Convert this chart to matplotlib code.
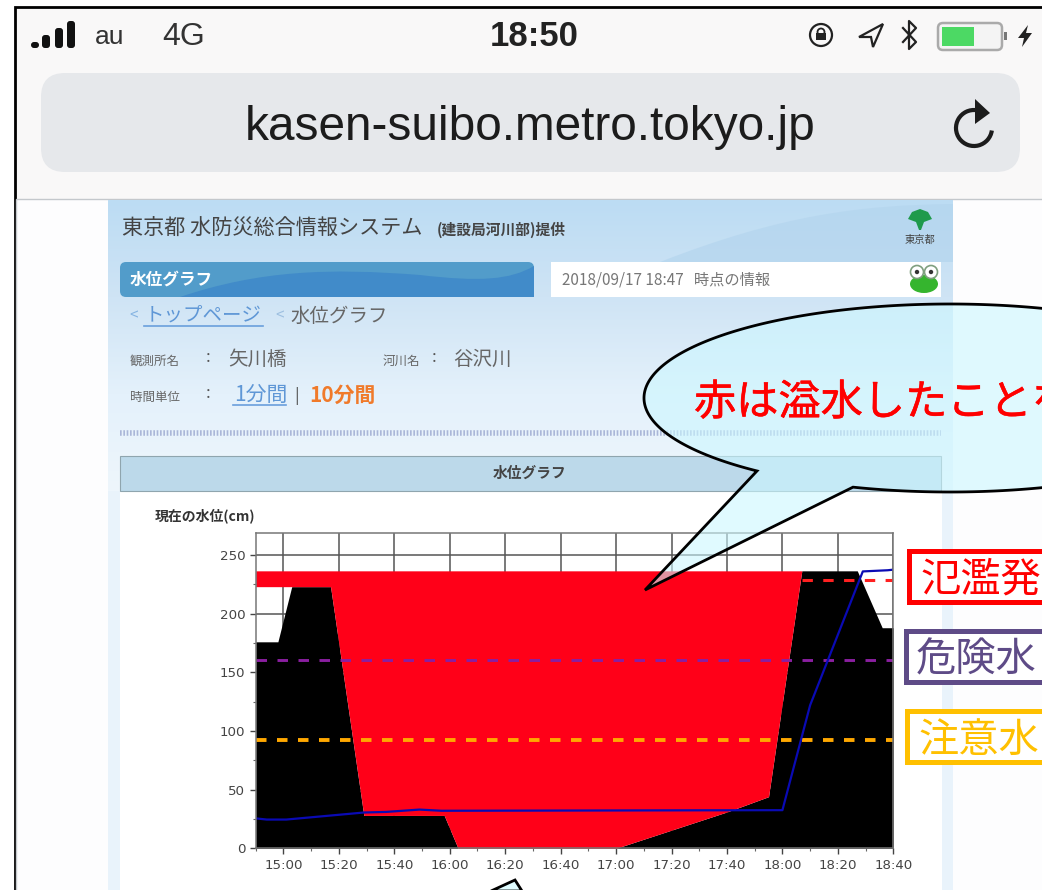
import numpy as np
import pandas as pd
import matplotlib
matplotlib.use("Agg")
import matplotlib.pyplot as plt
import matplotlib.dates as mdates
import matplotlib.patheffects as pe
from matplotlib.patches import Rectangle, FancyBboxPatch, Polygon, Circle, Arc, Ellipse, PathPatch
from matplotlib.path import Path
from matplotlib.colors import LinearSegmentedColormap

plt.rcParams['font.family'] = ['Noto Sans CJK JP', 'DejaVu Sans']

# water level chart data
ground_times = ["14:50", "14:58", "15:03", "15:17", "15:29", "15:58", "16:03", "17:00", "17:40", "17:55", "18:07", "18:27", "18:36", "18:40"]
ground_level = [176, 176, 223, 223, 28, 28, 0, 0, 31, 44, 236.5, 236.5, 188, 188]

flood_times = ["14:50", "15:03", "15:17", "15:29", "15:58", "16:03", "17:00", "17:40", "17:55", "18:07"]
flood_low = [223, 223, 223, 28, 28, 0, 0, 31, 44, 236.5]
flood_top = 236.5

level_times = ["14:50", "14:54", "15:01", "15:29", "15:37", "15:49", "15:57", "18:00", "18:10", "18:29", "18:38", "18:40"]
level_cm = [25.5, 24.5, 24.5, 30.5, 31, 33, 32, 32.5, 122, 236, 237, 237.5]

warn_level = 92
danger_level = 160.5
flood_level = 229
flood_line_start = "18:07"

yticks = [0, 50, 100, 150, 200, 250]
xtick_times = ["15:00", "15:20", "15:40", "16:00", "16:20", "16:40", "17:00", "17:20", "17:40", "18:00", "18:20", "18:40"]

def to_time(times):
    return pd.to_datetime(["2018-09-17 " + t for t in times])

W, H = 1042, 890
fig = plt.figure(figsize=(W / 100, H / 100), dpi=100, facecolor="white")

def pixel_axes(z):
    a = fig.add_axes([0, 0, 1, 1], zorder=z)
    a.set_xlim(0, W)
    a.set_ylim(H, 0)
    a.axis("off")
    a.patch.set_alpha(0)
    return a

# ---- screenshot background ----
bg = pixel_axes(0)
bg.add_patch(Rectangle((15, 7), W, H, fc="#f9f8f8", ec="black", lw=2))
bg.add_patch(Rectangle((16, 199), W, H, fc="#fdfdfe", ec="#c4c8cc", lw=1))
bg.add_patch(FancyBboxPatch((41, 73), 979, 99, boxstyle="round,pad=0,rounding_size=24", fc="#e6e8eb", ec="none"))

# status bar
for bx, bt in zip([31, 42, 55, 67], [42, 35, 28, 21]):
    bg.add_patch(FancyBboxPatch((bx, bt), 8, 48 - bt, boxstyle="round,pad=0,rounding_size=3", fc="#111111", ec="none"))
bg.text(95, 37, "au", fontsize=19, family="Liberation Sans", color="#333333", va="center")
bg.text(162, 37, "4G", fontsize=23, family="Liberation Sans", color="#333333", va="center")
bg.text(534, 36, "18:50", fontsize=25, family="Liberation Sans", fontweight="bold", color="#222222", va="center", ha="center")
bg.add_patch(Circle((821, 35), 11, fc="none", ec="#222222", lw=1.6))
bg.add_patch(Circle((821, 32), 3.5, fc="none", ec="#222222", lw=1.3))
bg.add_patch(Rectangle((816, 33), 10, 7, fc="#222222", ec="none"))
bg.add_patch(Polygon([[883, 24], [859, 37], [871, 37], [873, 47]], closed=True, fc="none", ec="#222222", lw=1.6))
bg.plot([903, 916, 909, 909, 916, 903], [28, 42, 49, 21, 28, 42], color="#222222", lw=1.6)
bg.add_patch(FancyBboxPatch((938, 23), 64, 27, boxstyle="round,pad=0,rounding_size=5", fc="#f4f4f4", ec="#aaaaaa", lw=1.8))
bg.add_patch(Rectangle((942, 27), 32, 19, fc="#4cd964", ec="none"))
bg.add_patch(Rectangle((1004, 32), 3, 8, fc="#777777", ec="none"))
bg.add_patch(Polygon([[1028, 25], [1018, 38], [1024, 38], [1022, 47], [1032, 33], [1026, 33]], closed=True, fc="#222222", ec="none"))

# address bar
bg.text(530, 128, "kasen-suibo.metro.tokyo.jp", fontsize=34.4, family="Liberation Sans", color="#1c1c1c", ha="center", va="center")
bg.add_patch(Arc((974, 128), 36, 36, theta1=8, theta2=278, ec="#1c1c1c", lw=3))
bg.add_patch(Polygon([[975, 99], [990, 113], [975, 124]], closed=True, fc="#1c1c1c", ec="none"))

# web page panel
grad = LinearSegmentedColormap.from_list("panel", ["#bcdcf3", "#cfe4f5", "#e4f1fb", "#eef6fc"])
bg.imshow(np.linspace(0, 1, 256).reshape(-1, 1), extent=(108, 953, 491, 200), cmap=grad, aspect="auto", zorder=1)
bg.add_patch(Rectangle((108, 491), 845, H, fc="#e9f3fb", ec="none", zorder=1))
bg.add_patch(Rectangle((120, 491), 822, H, fc="white", ec="none", zorder=1))
swoosh = Path([(660, 262), (780, 215), (860, 205), (953, 204), (953, 262), (660, 262)],
              [Path.MOVETO, Path.CURVE4, Path.CURVE4, Path.CURVE4, Path.LINETO, Path.CLOSEPOLY])
bg.add_patch(PathPatch(swoosh, fc="#b4d5ee", ec="none", alpha=0.7, zorder=1))
bg.set_xlim(0, W)
bg.set_ylim(H, 0)

bg.text(122, 229, "東京都 水防災総合情報システム", fontsize=15.2, color="#444444", va="center", zorder=3)
bg.text(437, 230, "(建設局河川部)提供", fontsize=10.6, color="#444444", fontweight="bold", va="center", zorder=3)
bg.add_patch(Polygon([[920, 209], [928, 212], [932, 219], [924, 222], [921, 230], [919, 230], [916, 222], [908, 219], [912, 212]], closed=True, fc="#1f9a4c", ec="none", zorder=3))
bg.text(920, 240, "東京都", fontsize=7.4, color="#444444", ha="center", va="center", zorder=3)

# banner
bg.add_patch(FancyBboxPatch((120, 262), 414, 35, boxstyle="round,pad=0,rounding_size=6", fc="#529cca", ec="none", zorder=2))
wave = Path([(180, 297), (260, 270), (330, 268), (420, 275), (480, 282), (510, 280), (534, 266), (534, 297), (180, 297)],
            [Path.MOVETO, Path.CURVE4, Path.CURVE4, Path.CURVE4, Path.CURVE4, Path.CURVE4, Path.CURVE4, Path.LINETO, Path.CLOSEPOLY])
bg.add_patch(PathPatch(wave, fc="#418bc9", ec="none", zorder=2))
bg.text(130, 280, "水位グラフ", fontsize=12, color="white", fontweight="bold", va="center", zorder=3)
bg.add_patch(Rectangle((551, 262), 390, 35, fc="white", ec="none", zorder=2))
bg.text(562, 280, "2018/09/17 18:47   時点の情報", fontsize=11, color="#777777", va="center", zorder=3)
bg.add_patch(Ellipse((924, 284), 28, 18, fc="#35b52e", ec="none", zorder=3))
bg.add_patch(Circle((917, 272), 6.5, fc="white", ec="#7f9f7f", lw=1.2, zorder=3))
bg.add_patch(Circle((931, 272), 6.5, fc="white", ec="#7f9f7f", lw=1.2, zorder=3))
bg.add_patch(Circle((917, 272), 2.2, fc="#333333", ec="none", zorder=4))
bg.add_patch(Circle((931, 272), 2.2, fc="#333333", ec="none", zorder=4))

# breadcrumb and station info
bg.text(129, 316, "<", fontsize=11, color="#86b4e2", va="center", zorder=3)
bg.text(145, 315, "トップページ", fontsize=14, color="#5f97d6", va="center", zorder=3)
bg.plot([144, 263], [326, 326], color="#6a9fdc", lw=1.2, zorder=3)
bg.text(275, 316, "<", fontsize=11, color="#9dbfe0", va="center", zorder=3)
bg.text(290, 316, "水位グラフ", fontsize=14, color="#666666", va="center", zorder=3)
bg.text(130, 361, "観測所名", fontsize=9, color="#666666", va="center", zorder=3)
bg.text(206, 358, ":", fontsize=12, color="#555555", va="center", zorder=3)
bg.text(228, 359, "矢川橋", fontsize=14, color="#666666", va="center", zorder=3)
bg.text(383, 361, "河川名", fontsize=9, color="#666666", va="center", zorder=3)
bg.text(432, 358, ":", fontsize=12, color="#555555", va="center", zorder=3)
bg.text(453, 359, "谷沢川", fontsize=14, color="#666666", va="center", zorder=3)
bg.text(130, 397, "時間単位", fontsize=9, color="#666666", va="center", zorder=3)
bg.text(206, 394, ":", fontsize=12, color="#555555", va="center", zorder=3)
bg.text(234, 395, "1分間", fontsize=15, color="#5f97d6", va="center", zorder=3)
bg.plot([233, 286], [405, 405], color="#6a9fdc", lw=1.2, zorder=3)
bg.text(294, 396, "|", fontsize=12, color="#555555", va="center", zorder=3)
bg.text(309, 395, "10分間", fontsize=15, color="#f07a2a", fontweight="bold", va="center", zorder=3)
bg.plot([120, 941], [433, 433], color="#aab7d8", lw=4, ls=(0, (0.3, 0.3)), zorder=3)

# section bar above the chart
bg.add_patch(Rectangle((120, 456), 821, 35, fc="#bcd9ea", ec="#8fa5ae", lw=0.8, zorder=2))
bg.text(530, 473, "水位グラフ", fontsize=10.6, color="#444444", fontweight="bold", ha="center", va="center", zorder=3)
bg.text(155, 516, "現在の水位(cm)", fontsize=10, color="#333333", fontweight="bold", va="center", zorder=3)

# ---- water level chart ----
left, right, top, bottom = 255.7, 893.3, 532.7, 848.3
ax = fig.add_axes([left / W, 1 - bottom / H, (right - left) / W, (bottom - top) / H], zorder=1)

ax.fill_between(to_time(ground_times), 0, ground_level, color="black", lw=0, zorder=2)
ax.fill_between(to_time(flood_times), flood_low, flood_top, color="#ff0018", lw=0, zorder=2.5)

t0, t1 = to_time(["14:50"])[0], to_time(["18:40"])[0]
ax.plot([t0, t1], [warn_level, warn_level], color="#ffa800", lw=2.8, ls=(0, (2.7, 2.7)), zorder=3)
ax.plot([t0, t1], [danger_level, danger_level], color="#8a1fa0", lw=2.1, ls=(0, (3.6, 3.6)), zorder=3)
ax.plot([to_time([flood_line_start])[0], t1], [flood_level, flood_level], color="#ff2020", lw=2.2, ls=(0, (3.4, 3.4)), zorder=3)
ax.plot(to_time(level_times), level_cm, color="#0a0ab4", lw=1.6, zorder=4)

ax.set_xlim(t0, t1)
ax.set_ylim(0, 269)
ax.set_yticks(yticks)
ax.set_yticks([25, 75, 125, 175, 225], minor=True)
ax.set_xticks(to_time(xtick_times))
ax.xaxis.set_major_formatter(mdates.DateFormatter("%H:%M"))
ax.xaxis.set_minor_locator(mdates.MinuteLocator(byminute=[10, 30, 50]))
ax.tick_params(axis="both", which="major", labelsize=9.6, labelfontfamily="DejaVu Sans", colors="#444444", length=4, width=1)
ax.tick_params(axis="both", which="minor", length=2, width=0.8, color="#666666")
ax.grid(True, which="major", color="#555555", lw=1.1)
ax.set_axisbelow(True)
for s in ax.spines.values():
    s.set_color("#777777")
    s.set_linewidth(1.1)
    s.set_zorder(5)

# ---- annotations drawn on top of the screenshot ----
fg = pixel_axes(2)

# tail leaves the ellipse between these two points on its lower left
ecx, ecy, ea, eb = 950, 398, 306, 94
t_a = np.degrees(np.arccos((853 - ecx) / ea))
t_b = np.degrees(np.arccos((757 - ecx) / ea))
theta = np.radians(np.linspace(t_b, 360 + t_a, 721))
pts = list(zip(ecx + ea * np.cos(theta), ecy + eb * np.sin(theta))) + [(645, 590)]
fg.add_patch(Polygon(pts, closed=True, fc=(0.8, 0.97, 1.0, 0.6), ec="black", lw=2, zorder=2))
thicker = [pe.withStroke(linewidth=0.4, foreground="#ff0000")]
fg.text(694, 403, "赤は溢水したことを", fontsize=30.4, color="#ff0000", va="center", zorder=3, path_effects=thicker)

# second callout, only its tip is in the frame
fg.add_patch(Polygon([[491, 891], [515, 880], [522, 891]], closed=True, fc="#dffcff", ec="black", lw=2, zorder=2))

# level legend boxes, they run off the right edge
for bx, by, bc, bt, tx in [(908.5, 548, "#ff0000", "氾濫発", 920), (905.5, 628, "#5e4b87", "危険水", 916), (906.5, 708, "#ffc000", "注意水", 918)]:
    fg.add_patch(Rectangle((bx, by + 2.5), 200, 51, fc="white", ec=bc, lw=3.6, zorder=2))
    fg.text(tx, by + 32, bt, fontsize=29, color=bc, va="center", zorder=3)

fig.savefig("out.png", dpi=100)
